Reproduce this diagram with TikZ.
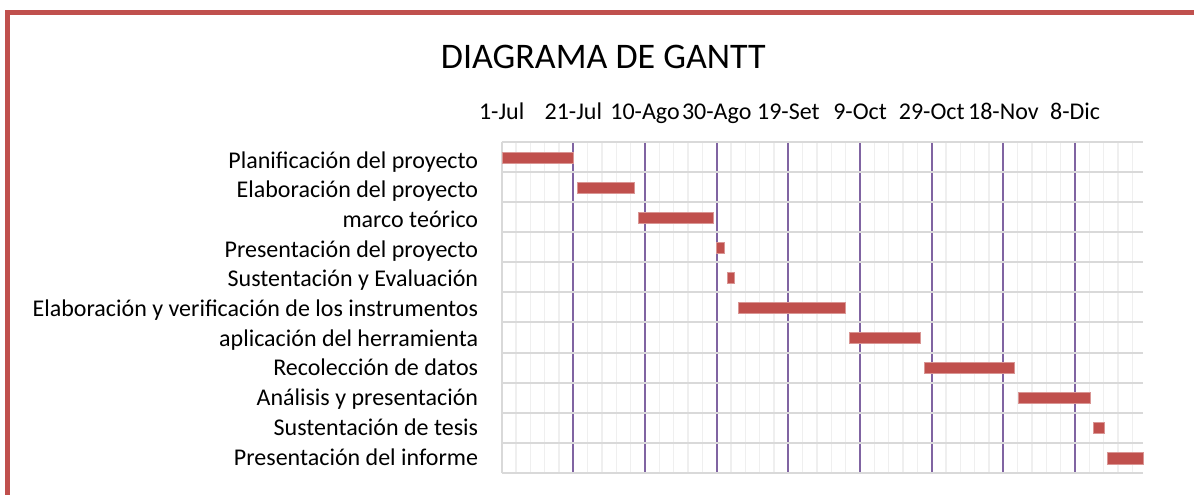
\documentclass[tikz,border=0pt]{standalone}
\usepackage{fontspec}
\setmainfont{Carlito}
\definecolor{barred}{HTML}{C0504D}
\definecolor{gridpurple}{HTML}{8064A2}
\definecolor{gridgrey}{HTML}{D9D9D9}
\definecolor{minorgrey}{HTML}{EFEFEF}
\begin{document}
\begin{tikzpicture}[x=1pt,y=-1pt,
  rowlabel/.style={font=\fontsize{24}{24}\selectfont, anchor=base east, inner sep=0pt},
  axislabel/.style={font=\fontsize{24}{24}\selectfont, anchor=base, inner sep=0pt},
  titlelabel/.style={font=\fontsize{36}{36}\selectfont, anchor=base, inner sep=0pt},
  minorline/.style={draw=minorgrey, line width=1.5pt},
  rowline/.style={draw=gridgrey, line width=2pt},
  majorline/.style={draw=gridpurple, line width=2pt},
  taskbar/.style={fill=barred, draw=barred!60!white, line width=0.6pt}]
\useasboundingbox (0,0) rectangle (1194,495);
\fill[white] (0,0) rectangle (1194,495);
\def\xo{501.7}\def\yo{142.3}\def\dw{3.5835}\def\rh{30.03}\def\yb{472.7}
% frame
\draw[barred, line width=5pt] (1200,12.5) -- (7.5,12.5) -- (7.5,500);
% minor vertical lines
\foreach \d in {4,8,12,16,24,28,32,36,44,48,52,56,64,68,72,76,84,88,92,96,104,108,112,116,124,128,132,136,144,148,152,156,164,168,172,176}
  \draw[minorline] ({\xo+\d*\dw},\yo) -- ({\xo+\d*\dw},\yb);
% major vertical lines
\foreach \k in {1,...,8}
  \draw[majorline] ({\xo+20*\k*\dw},\yo) -- ({\xo+20*\k*\dw},\yb);
% horizontal row lines
\foreach \i in {0,...,11}
  \draw[rowline] (\xo,{\yo+\i*\rh}) -- (1143.3,{\yo+\i*\rh});
\draw[rowline] (\xo,\yo) -- (\xo,\yb);
% bars
\foreach \s/\e/\r in {0.3/20/0,21/37/1,38/59/2,59.8/62.1/3,62.9/64.9/4,66/96/5,96.9/116.9/6,117.9/143/7,144.1/164.2/8,165/168.1/9,169.1/179/10}
  \path[taskbar] ({\xo+\s*\dw},{\yo+\r*\rh+10}) rectangle ({\xo+\e*\dw},{\yo+\r*\rh+21.2});
% title
\node[titlelabel] (title) at (603.3,68.3) {DIAGRAMA DE GANTT};
% axis labels
\foreach \k/\t in {0/1-Jul,1/21-Jul,2/10-Ago,3/30-Ago,4/19-Set,5/9-Oct,6/29-Oct,7/18-Nov,8/8-Dic}
  \node[axislabel] (ax\k) at ({\xo+20*\k*\dw},119) {\t};
% row labels
\node[rowlabel] (t1) at (478.3,168.3) {Planificación del proyecto};
\node[rowlabel] (t2) at (478.3,197.97) {Elaboración del proyecto};
\node[rowlabel] (t3) at (478.3,227.64) {marco teórico};
\node[rowlabel] (t4) at (478.3,257.31) {Presentación del proyecto};
\node[rowlabel] (t5) at (478.3,286.98) {Sustentación y Evaluación};
\node[rowlabel] (t6) at (478.3,316.65) {Elaboración y verificación de los instrumentos\ };
\node[rowlabel] (t7) at (478.3,346.32) {aplicación del herramienta};
\node[rowlabel] (t8) at (478.3,375.99) {Recolección de datos};
\node[rowlabel] (t9) at (478.3,405.66) {Análisis y presentación};
\node[rowlabel] (t10) at (478.3,435.33) {Sustentación de tesis};
\node[rowlabel] (t11) at (478.3,465.0) {Presentación del informe};
\end{tikzpicture}
\end{document}
